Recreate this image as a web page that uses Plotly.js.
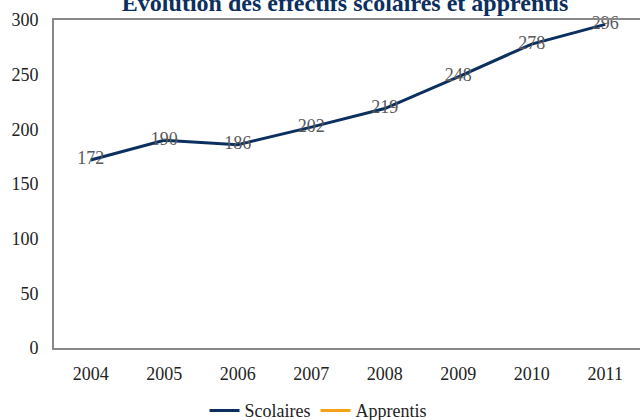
<!DOCTYPE html>
<html>
<head>
<meta charset="utf-8">
<script src="https://cdn.plot.ly/plotly-3.0.1.min.js"></script>
<style>
html,body{margin:0;padding:0;overflow:hidden;background:#fff;}
#chart{width:645px;height:420px;}
</style>
</head>
<body>
<div id="chart"></div>
<script>
const years = ['2004','2005','2006','2007','2008','2009','2010','2011'];
const scolaires = [172, 190, 186, 202, 219, 248, 278, 296];
const apprentis = [null, null, null, null, null, null, null, null];
const titleText = 'Évolution des effectifs scolaires et apprentis';

const serif = "'Liberation Serif', 'DejaVu Serif', serif";

const traces = [
  {
    x: years, y: scolaires, name: 'Scolaires', type: 'scatter', mode: 'lines+text',
    line: {color: '#0b2f5e', width: 3},
    text: scolaires.map(String), textposition: 'middle center',
    textfont: {family: serif, size: 18, color: '#595959'},
    cliponaxis: false
  },
  {
    x: years, y: apprentis, name: 'Apprentis', type: 'scatter', mode: 'lines',
    line: {color: '#f5a21b', width: 3},
    showlegend: true
  }
];

const layout = {
  width: 645, height: 420,
  margin: {l: 54, r: 3, t: 20, b: 72},
  paper_bgcolor: '#fff', plot_bgcolor: '#fff',
  font: {family: serif, size: 18, color: '#222'},
  title: {
    text: '<b>' + titleText + '</b>',
    font: {family: serif, size: 24, color: '#0b2f5e'},
    x: 0.535, xanchor: 'center', xref: 'container',
    y: 0.993, yanchor: 'middle', yref: 'container'
  },
  xaxis: {
    type: 'category', range: [-0.5, 7.5],
    showline: true, linecolor: '#888', linewidth: 2, mirror: true,
    showgrid: false, zeroline: false, ticks: '',
    ticklabelstandoff: 8,
    tickfont: {family: serif, size: 18, color: '#222'}
  },
  yaxis: {
    range: [0, 300], dtick: 50,
    showline: true, linecolor: '#888', linewidth: 2, mirror: true,
    showgrid: false, zeroline: false, ticks: '',
    ticklabelstandoff: 10,
    tickfont: {family: serif, size: 18, color: '#222'}
  },
  showlegend: true,
  legend: {
    orientation: 'h', x: 0.449, xanchor: 'center', xref: 'paper',
    y: 0.022, yanchor: 'middle', yref: 'container',
    bgcolor: 'rgba(0,0,0,0)',
    font: {family: serif, size: 18, color: '#222'},
    itemwidth: 30, tracegroupgap: 0
  }
};

Plotly.newPlot('chart', traces, layout, {displayModeBar: false, staticPlot: true});
</script>
</body>
</html>
